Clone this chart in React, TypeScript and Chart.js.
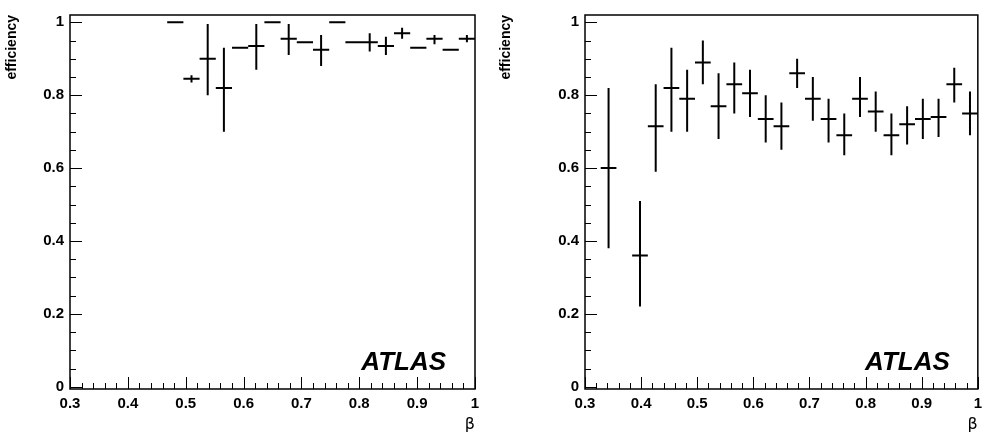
import { useEffect, useRef } from "react"
import { Chart, registerables } from "chart.js"

Chart.register(...registerables)

const binWidth = 0.028
const leftX = [0.482, 0.51, 0.538, 0.566, 0.594, 0.622, 0.65, 0.678, 0.706, 0.734, 0.762, 0.79, 0.818, 0.846, 0.874, 0.902, 0.93, 0.958, 0.986]
const leftY = [1.0, 0.845, 0.9, 0.82, 0.93, 0.935, 1.0, 0.955, 0.945, 0.925, 1.0, 0.945, 0.945, 0.935, 0.97, 0.93, 0.955, 0.925, 0.955]
const leftLo = [1.0, 0.835, 0.8, 0.7, 0.925, 0.87, 1.0, 0.91, 0.94, 0.88, 1.0, 0.94, 0.92, 0.91, 0.955, 0.925, 0.94, 0.92, 0.945]
const leftHi = [1.0, 0.855, 0.995, 0.93, 0.935, 0.995, 1.0, 0.995, 0.95, 0.965, 1.0, 0.95, 0.97, 0.96, 0.985, 0.935, 0.965, 0.93, 0.965]

const rightX = [0.342, 0.398, 0.426, 0.454, 0.482, 0.51, 0.538, 0.566, 0.594, 0.622, 0.65, 0.678, 0.706, 0.734, 0.762, 0.79, 0.818, 0.846, 0.874, 0.902, 0.93, 0.958, 0.986]
const rightY = [0.6, 0.36, 0.715, 0.82, 0.79, 0.89, 0.77, 0.83, 0.805, 0.735, 0.715, 0.86, 0.79, 0.735, 0.69, 0.79, 0.755, 0.69, 0.72, 0.735, 0.74, 0.83, 0.75]
const rightLo = [0.38, 0.22, 0.59, 0.70, 0.70, 0.83, 0.68, 0.75, 0.74, 0.67, 0.65, 0.82, 0.73, 0.67, 0.635, 0.74, 0.70, 0.635, 0.665, 0.68, 0.685, 0.78, 0.69]
const rightHi = [0.82, 0.51, 0.83, 0.93, 0.87, 0.95, 0.86, 0.89, 0.87, 0.80, 0.78, 0.90, 0.85, 0.79, 0.75, 0.85, 0.81, 0.75, 0.77, 0.79, 0.79, 0.875, 0.81]

const xTicks = [0.3, 0.4, 0.5, 0.6, 0.7, 0.8, 0.9, 1.0]
const yTicks = [0, 0.2, 0.4, 0.6, 0.8, 1.0]

const FONT = "'Liberation Sans', Arial, sans-serif"

function crosses(xs: number[], ys: number[], lo: number[], hi: number[]) {
  const pts: { x: number; y: number | null }[] = []
  xs.forEach((x, i) => {
    pts.push({ x: x - binWidth / 2, y: ys[i] }, { x: x + binWidth / 2, y: ys[i] }, { x, y: null })
    if (hi[i] - lo[i] > 0.012) {
      pts.push({ x, y: lo[i] }, { x, y: hi[i] }, { x, y: null })
    }
  })
  return pts
}

const framePlugin = {
  id: "frame",
  afterDatasetsDraw(chart: any) {
    const { ctx, chartArea: a, scales } = chart
    const xs = scales.x
    const ys = scales.y
    ctx.save()
    ctx.strokeStyle = "#000"
    ctx.lineWidth = 1.5
    ctx.strokeRect(a.left, a.top, a.right - a.left, a.bottom - a.top)
    ctx.lineWidth = 1
    ctx.beginPath()
    for (let i = 0; i <= 35; i++) {
      const v = 0.3 + i * 0.02
      const px = Math.round(xs.getPixelForValue(v)) + 0.5
      const len = i % 5 === 0 ? 12 : 6
      ctx.moveTo(px, a.bottom)
      ctx.lineTo(px, a.bottom - len)
    }
    for (let i = 0; i <= 20; i++) {
      const v = i * 0.05
      const py = Math.round(ys.getPixelForValue(v)) + 0.5
      const len = i % 4 === 0 ? 12 : 6
      ctx.moveTo(a.left, py)
      ctx.lineTo(a.left + len, py)
    }
    ctx.stroke()
    ctx.fillStyle = "#000"
    ctx.font = `italic bold 26px ${FONT}`
    ctx.textAlign = "right"
    ctx.textBaseline = "alphabetic"
    ctx.fillText("ATLAS", xs.getPixelForValue(0.95), ys.getPixelForValue(0.045))
    ctx.restore()
  },
}

function Panel({ xs, ys, lo, hi, axisWidth, padRight }: any) {
  const ref = useRef<HTMLCanvasElement>(null)
  useEffect(() => {
    if (!ref.current) return
    const chart = new Chart(ref.current, {
      type: "line",
      data: {
        datasets: [
          {
            data: crosses(xs, ys, lo, hi),
            borderColor: "#000",
            borderWidth: 2,
            pointRadius: 0,
            spanGaps: false,
            tension: 0,
          },
        ],
      },
      options: {
        responsive: false,
        animation: false,
        layout: { padding: { top: 9, right: padRight, left: 0, bottom: 0 } },
        plugins: { legend: { display: false }, tooltip: { enabled: false } },
        scales: {
          x: {
            type: "linear",
            min: 0.3,
            max: 1.0,
            grid: { display: false, drawTicks: false },
            border: { display: false },
            afterBuildTicks: (s: any) => {
              s.ticks = xTicks.map((v) => ({ value: v }))
            },
            afterFit: (s: any) => {
              s.height = 49
            },
            ticks: {
              color: "#000",
              padding: 6,
              maxRotation: 0,
              font: { family: FONT, size: 15, weight: "bold" },
              callback: (v: any) => (v === 1 ? "1" : Number(v).toFixed(1)),
            },
            title: {
              display: true,
              text: "β",
              align: "end",
              color: "#000",
              padding: { top: 0 },
              font: { family: "'DejaVu Sans', sans-serif", size: 16 },
            },
          },
          y: {
            min: -0.006,
            max: 1.02,
            grid: { display: false, drawTicks: false },
            border: { display: false },
            afterBuildTicks: (s: any) => {
              s.ticks = yTicks.map((v) => ({ value: v }))
            },
            afterFit: (s: any) => {
              s.width = axisWidth
            },
            ticks: {
              color: "#000",
              padding: 6,
              font: { family: FONT, size: 15, weight: "bold" },
              callback: (v: any) => (v === 0 ? "0" : v === 1 ? "1" : Number(v).toFixed(1)),
            },
            title: {
              display: true,
              text: "efficiency",
              align: "end",
              color: "#000",
              padding: { bottom: 2 },
              font: { family: FONT, size: 14, weight: "bold" },
            },
          },
        },
      },
      plugins: [framePlugin],
    })
    return () => chart.destroy()
  }, [])
  return <canvas ref={ref} width={494} height={438} style={{ display: "block" }} />
}

export default function App() {
  return (
    <div style={{ position: "fixed", left: 0, top: 0, width: 988, height: 438, background: "#fff", display: "flex" }}>
      <Panel xs={leftX} ys={leftY} lo={leftLo} hi={leftHi} axisWidth={70} padRight={19} />
      <Panel xs={rightX} ys={rightY} lo={rightLo} hi={rightHi} axisWidth={91} padRight={8} />
    </div>
  )
}
